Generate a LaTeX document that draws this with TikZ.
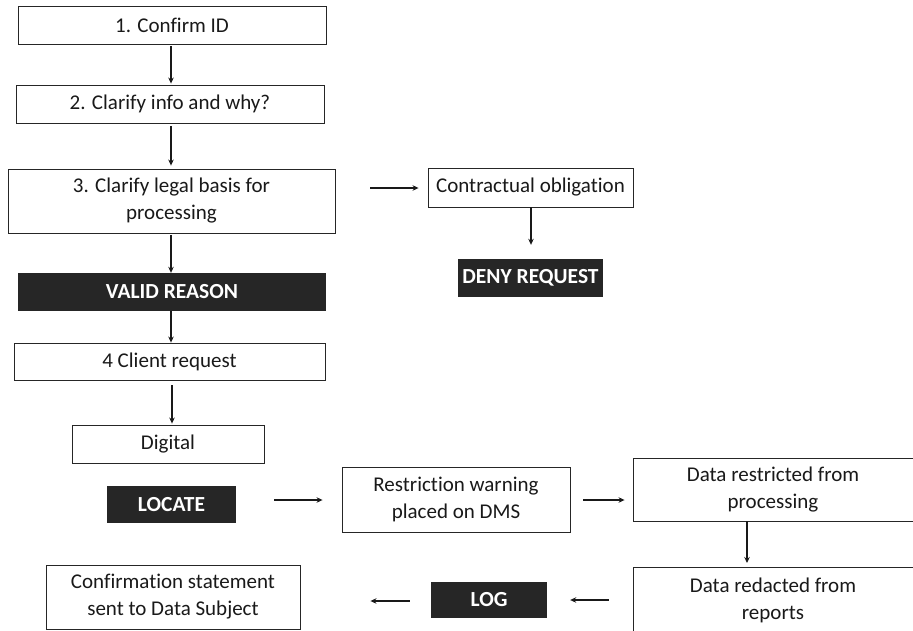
\documentclass[tikz,border=0pt]{standalone}
\usepackage{fontspec}
\setmainfont[Ligatures={NoCommon}]{Carlito}
\usetikzlibrary{arrows.meta}
\definecolor{darkfill}{HTML}{262626}
\begin{document}
\begin{tikzpicture}[x=1pt,y=-1pt,
  box/.style={draw=black!85,line width=0.9pt,fill=white,inner sep=0pt,align=center,
    font=\fontsize{21}{27}\selectfont,text=black!90},
  darkbox/.style={fill=darkfill,inner sep=0pt,align=center,
    font=\fontsize{21.5}{24}\selectfont\bfseries,text=white},
  arr/.style={line width=1.5pt,draw=black!90,-{Stealth[length=6pt,width=5.5pt]}}]
\clip (0,0) rectangle (913,630);
\fill[white] (0,0) rectangle (913,630);
% left column
\node[box,minimum width=308pt,minimum height=38pt] (b1) at (172,25) {1. Confirm ID};
\node[box,minimum width=308pt,minimum height=38pt] (b2) at (170,104) {2. Clarify info and why?};
\node[box,minimum width=327pt,minimum height=64pt] (b3) at (171.5,201) {3. Clarify legal basis for\\processing};
\node[darkbox,minimum width=308pt,minimum height=38pt] (vr) at (172,292) {VALID REASON};
\node[box,minimum width=311pt,minimum height=37pt] (b4) at (169.5,361.5) {4 Client request};
\node[box,minimum width=192pt,minimum height=38pt] (dig) at (168,444) {Digital};
\node[darkbox,minimum width=129pt,minimum height=37pt] (loc) at (171.5,504.5) {LOCATE};
\node[box,minimum width=254pt,minimum height=64pt] (conf) at (173,597) {Confirmation statement\\sent to Data Subject};
% right part
\node[box,minimum width=205pt,minimum height=39pt] (co) at (530.5,187.5) {Contractual obligation};
\node[darkbox,minimum width=145pt,minimum height=38pt] (deny) at (530.5,278) {DENY REQUEST};
\node[box,minimum width=228pt,minimum height=65pt] (res) at (456,499.5) {Restriction warning\\placed on DMS};
\node[box,minimum width=280pt,minimum height=63pt] (dr) at (773,489.5) {Data restricted from\\processing};
\node[box,minimum width=280pt,minimum height=66pt,anchor=north] (dx) at (773,567) {Data redacted from\\reports};
\node[darkbox,minimum width=116pt,minimum height=36pt] (log) at (489,600) {LOG};
% connectors
\draw[arr,shorten <=2pt,shorten >=1pt] (b1.south -| 171,0) -- (b2.north -| 171,0);
\draw[arr,shorten <=3pt,shorten >=3pt] (b2.south -| 171,0) -- (b3.north -| 171,0);
\draw[arr,shorten <=2pt] (b3.south -| 171,0) -- (vr.north -| 171,0);
\draw[arr] (vr.south -| 171,0) -- (b4.north -| 171,0);
\draw[arr,shorten <=5pt,shorten >=1pt] (b4.south -| 172,0) -- (dig.north -| 172,0);
\draw[arr,shorten <=35pt,shorten >=9pt] (b3.east |- 0,188) -- (co.west |- 0,188);
\draw[arr,shorten >=14pt] (co.south -| 531,0) -- (deny.north -| 531,0);
\draw[arr,shorten <=38pt,shorten >=19pt] (loc.east |- 0,500) -- (res.west |- 0,500);
\draw[arr,shorten <=13pt,shorten >=8pt] (res.east |- 0,500) -- (dr.west |- 0,500);
\draw[arr,shorten >=4pt] (dr.south -| 747,0) -- (dx.north -| 747,0);
\draw[arr,shorten <=24pt,shorten >=23pt] (dx.west |- 0,600) -- (log.east |- 0,600);
\draw[arr,shorten <=21pt,shorten >=70pt] (log.west |- 0,601) -- (conf.east |- 0,601);
\end{tikzpicture}
\end{document}
